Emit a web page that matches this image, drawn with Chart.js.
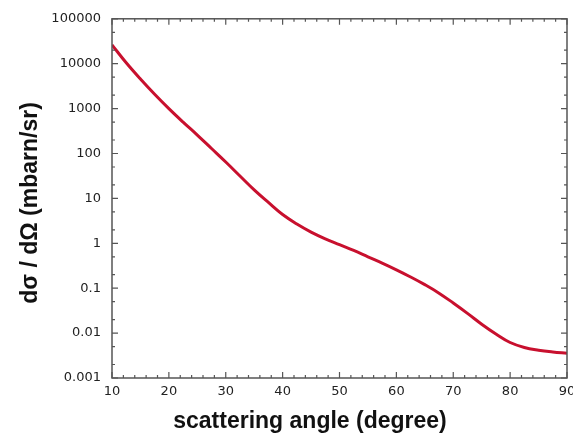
<!DOCTYPE html>
<html>
<head>
<meta charset="utf-8">
<script src="https://cdn.jsdelivr.net/npm/chart.js@4.4.1/dist/chart.umd.min.js"></script>
<style>
  html, body { margin: 0; padding: 0; background: #fff; }
  #wrap { width: 573px; height: 439px; }
</style>
</head>
<body>
<div id="wrap"><canvas id="chart" width="573" height="439"></canvas></div>
<script>
// scattering angle (degree)
const angles = [10, 12.5, 15, 17.5, 20, 22.5, 25, 27.5, 30, 32.5, 35, 37.5, 40, 42.5, 45, 47.5,
  50, 52.5, 55, 57.5, 60, 62.5, 65, 67.5, 70, 72.5, 75, 77.5, 80, 82.5, 85, 87.5, 90];
// dsigma / dOmega (mbarn/sr)
const crossSection = [26300, 10500, 4570, 2090, 1000, 500, 257, 129, 64.6, 31.6, 15.5, 8.13, 4.37, 2.69, 1.78, 1.26,
  0.933, 0.692, 0.501, 0.363, 0.257, 0.178, 0.120, 0.0776, 0.0468, 0.0275, 0.0158, 0.00955, 0.00617, 0.00479, 0.00417, 0.0038, 0.00355];

const xTicks = [10, 20, 30, 40, 50, 60, 70, 80, 90];
const yTicks = [0.001, 0.01, 0.1, 1, 10, 100, 1000, 10000, 100000];

const xTitle = 'scattering angle (degree)';
const yTitle = 'dσ / dΩ (mbarn/sr)';

const titleFont = 'bold 23px "Liberation Sans", Arial, sans-serif';

// frame + inward ticks on all four sides, plus the axis titles
const framePlugin = {
  id: 'frame',
  afterDatasetsDraw(chart) {
    const { ctx, chartArea: a, scales } = chart;
    const xs = scales.x, ys = scales.y;
    ctx.save();
    ctx.strokeStyle = '#555';
    ctx.lineWidth = 1.5;
    ctx.strokeRect(a.left, a.top, a.right - a.left, a.bottom - a.top);

    ctx.lineWidth = 1.2;
    ctx.beginPath();
    // x ticks every 2 degrees, majors every 10
    for (let v = xTicks[0]; v <= xTicks[xTicks.length - 1]; v += 2) {
      const px = xs.getPixelForValue(v);
      const len = xTicks.includes(v) ? 6 : 3;
      ctx.moveTo(px, a.bottom); ctx.lineTo(px, a.bottom - len);
      ctx.moveTo(px, a.top); ctx.lineTo(px, a.top + len);
    }
    // y ticks: decades major, 2 and 5 minor
    yTicks.forEach((d, i) => {
      const marks = [[d, 6]];
      if (i < yTicks.length - 1) marks.push([d * 2, 3], [d * 5, 3]);
      marks.forEach(([v, len]) => {
        const py = ys.getPixelForValue(v);
        ctx.moveTo(a.left, py); ctx.lineTo(a.left + len, py);
        ctx.moveTo(a.right, py); ctx.lineTo(a.right - len, py);
      });
    });
    ctx.stroke();

    ctx.fillStyle = '#111';
    ctx.font = titleFont;
    ctx.textAlign = 'center';
    ctx.textBaseline = 'alphabetic';
    ctx.fillText(xTitle, 310, 428);
    ctx.translate(37, 203);
    ctx.rotate(-Math.PI / 2);
    ctx.fillText(yTitle, 0, 0);
    ctx.restore();
  }
};

new Chart(document.getElementById('chart'), {
  type: 'line',
  data: {
    datasets: [{
      data: angles.map((a, i) => ({ x: a, y: crossSection[i] })),
      borderColor: '#c8102e',
      borderWidth: 3,
      pointRadius: 0,
      tension: 0.4,
      fill: false
    }]
  },
  options: {
    responsive: false,
    animation: false,
    layout: { padding: { left: 0, right: 6, top: 13, bottom: 0 } },
    plugins: {
      legend: { display: false },
      tooltip: { enabled: false }
    },
    scales: {
      x: {
        type: 'linear',
        min: 10,
        max: 90,
        grid: { display: false, drawTicks: false },
        border: { display: false },
        afterBuildTicks(scale) {
          scale.ticks = xTicks.map(v => ({ value: v }));
        },
        afterFit(scale) {
          scale.height = 61;
          scale.paddingRight = 0;
          scale.paddingLeft = 0;
        },
        ticks: {
          padding: 6,
          color: '#222',
          font: { family: '"DejaVu Sans", sans-serif', size: 13 },
          maxRotation: 0
        }
      },
      y: {
        type: 'logarithmic',
        min: 0.001,
        max: 100000,
        grid: { display: false, drawTicks: false },
        border: { display: false },
        afterBuildTicks(scale) {
          scale.ticks = yTicks.map(v => ({ value: v, major: true }));
        },
        afterFit(scale) {
          scale.width = 112;
        },
        ticks: {
          padding: 11,
          color: '#222',
          font: { family: '"DejaVu Sans", sans-serif', size: 13 },
          callback: v => String(v)
        }
      }
    }
  },
  plugins: [framePlugin]
});
</script>
</body>
</html>
